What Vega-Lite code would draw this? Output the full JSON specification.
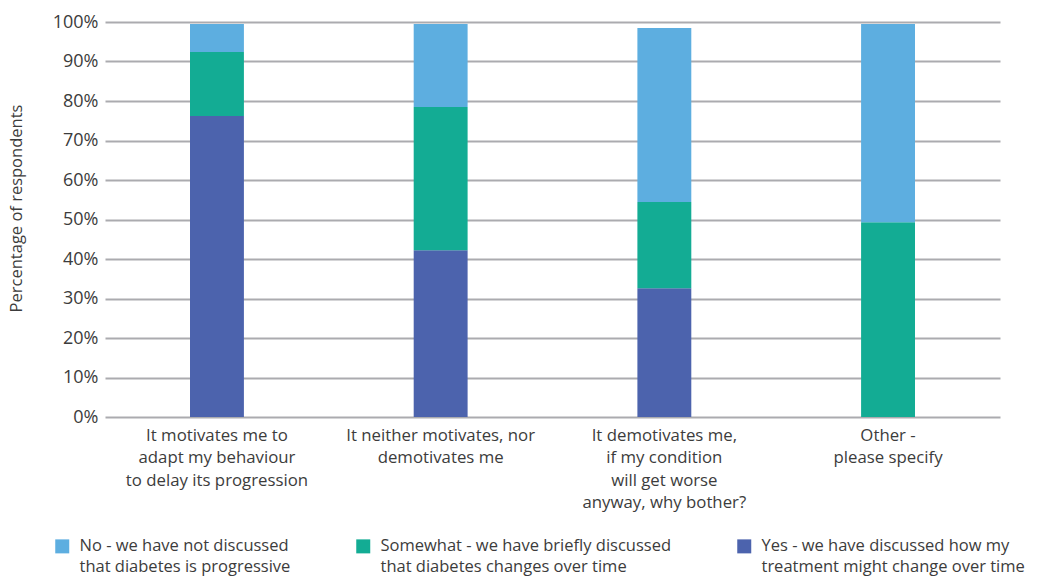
{
  "$schema": "https://vega.github.io/schema/vega-lite/v6.json",
  "width": 895,
  "height": 395,
  "autosize": {"type": "none"},
  "padding": {"left": 105, "top": 22, "right": 40, "bottom": 166},
  "background": "white",
  "config": {
    "font": "Open Sans",
    "view": {"stroke": null}
  },
  "data": {
    "values": [
      {"cat": "It motivates me to|adapt my behaviour|to delay its progression", "resp": "Yes - we have discussed how my|treatment might change over time", "k": 1, "v": 76.2},
      {"cat": "It motivates me to|adapt my behaviour|to delay its progression", "resp": "Somewhat - we have briefly discussed|that diabetes changes over time", "k": 2, "v": 16.2},
      {"cat": "It motivates me to|adapt my behaviour|to delay its progression", "resp": "No - we have not discussed|that diabetes is progressive", "k": 3, "v": 7.1},
      {"cat": "It neither motivates, nor|demotivates me", "resp": "Yes - we have discussed how my|treatment might change over time", "k": 1, "v": 42.2},
      {"cat": "It neither motivates, nor|demotivates me", "resp": "Somewhat - we have briefly discussed|that diabetes changes over time", "k": 2, "v": 36.3},
      {"cat": "It neither motivates, nor|demotivates me", "resp": "No - we have not discussed|that diabetes is progressive", "k": 3, "v": 21.0},
      {"cat": "It demotivates me,|if my condition|will get worse|anyway, why bother?", "resp": "Yes - we have discussed how my|treatment might change over time", "k": 1, "v": 32.6},
      {"cat": "It demotivates me,|if my condition|will get worse|anyway, why bother?", "resp": "Somewhat - we have briefly discussed|that diabetes changes over time", "k": 2, "v": 21.8},
      {"cat": "It demotivates me,|if my condition|will get worse|anyway, why bother?", "resp": "No - we have not discussed|that diabetes is progressive", "k": 3, "v": 44.1},
      {"cat": "Other -|please specify", "resp": "Yes - we have discussed how my|treatment might change over time", "k": 1, "v": 0},
      {"cat": "Other -|please specify", "resp": "Somewhat - we have briefly discussed|that diabetes changes over time", "k": 2, "v": 49.3},
      {"cat": "Other -|please specify", "resp": "No - we have not discussed|that diabetes is progressive", "k": 3, "v": 50.2}
    ]
  },
  "mark": {"type": "bar"},
  "encoding": {
    "x": {
      "field": "cat",
      "type": "nominal",
      "sort": null,
      "scale": {"paddingInner": 0.759, "paddingOuter": 0.38},
      "axis": {
        "title": null,
        "labelAngle": 0,
        "labelExpr": "split(datum.label, '|')",
        "labelFontSize": 16.8,
        "labelColor": "#3c3c3c",
        "labelPadding": 10,
        "labelLineHeight": 22.5,
        "labelBaseline": "top",
        "ticks": false,
        "domain": false,
        "labelLimit": 400
      }
    },
    "y": {
      "field": "v",
      "type": "quantitative",
      "stack": "zero",
      "scale": {"domain": [0, 100], "nice": false},
      "axis": {
        "title": "Percentage of respondents",
        "titleFontSize": 16.5,
        "titleFontWeight": "normal",
        "titleColor": "#3c3c3c",
        "titlePadding": 28,
        "titleY": 186,
        "values": [0, 10, 20, 30, 40, 50, 60, 70, 80, 90, 100],
        "labelExpr": "datum.value + '%'",
        "labelFontSize": 18,
        "labelColor": "#3c3c3c",
        "labelPadding": 7,
        "ticks": false,
        "domain": false,
        "grid": true,
        "gridColor": "#ababaf",
        "gridWidth": 2,
        "gridOpacity": 1
      }
    },
    "color": {
      "field": "resp",
      "type": "nominal",
      "scale": {
        "domain": [
          "No - we have not discussed|that diabetes is progressive",
          "Somewhat - we have briefly discussed|that diabetes changes over time",
          "Yes - we have discussed how my|treatment might change over time"
        ],
        "range": ["#5daee0", "#13ac94", "#4c63ad"]
      },
      "legend": {
        "title": null,
        "orient": "none",
        "legendX": -51,
        "legendY": 516,
        "direction": "horizontal",
        "columns": 3,
        "columnPadding": 64,
        "symbolType": "square",
        "symbolSize": 196,
        "symbolStrokeWidth": 0,
        "symbolOpacity": 1,
        "labelExpr": "split(datum.label, '|')",
        "labelFontSize": 16.5,
        "labelColor": "#3c3c3c",
        "labelOffset": 9,
        "labelLimit": 400,
        "encode": {
          "labels": {"update": {"lineHeight": {"value": 21}}}
        }
      }
    },
    "order": {"field": "k", "type": "quantitative"}
  }
}
